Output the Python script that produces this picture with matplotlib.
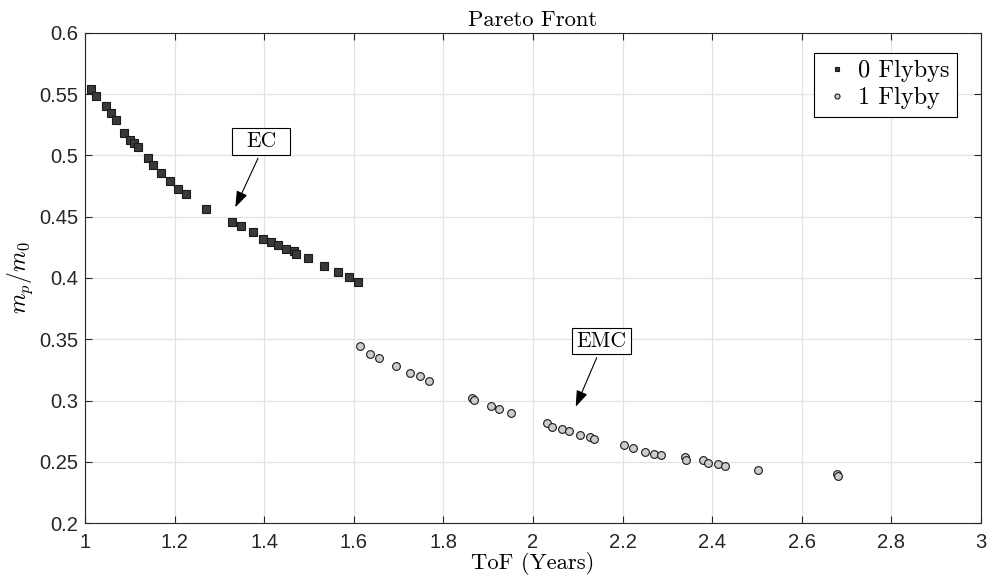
import matplotlib
matplotlib.use("Agg")
import matplotlib.pyplot as plt
from matplotlib.patches import Rectangle

plt.rcParams['mathtext.fontset'] = 'cm'

tof_0 = [1.0127, 1.0238, 1.0462, 1.0587, 1.0699, 1.0871, 1.1004, 1.1101, 1.1176, 1.1400,
         1.1525, 1.1704, 1.1905, 1.2083, 1.2254, 1.2694, 1.3288, 1.3489, 1.3750, 1.3980,
         1.4152, 1.4315, 1.4494, 1.4672, 1.4717, 1.4985, 1.5328, 1.5641, 1.5886, 1.6100]
mr_0 = [0.5540, 0.5485, 0.5400, 0.5344, 0.5290, 0.5180, 0.5126, 0.5104, 0.5069, 0.4980,
        0.4920, 0.4860, 0.4789, 0.4724, 0.4683, 0.4566, 0.4455, 0.4427, 0.4376, 0.4321,
        0.4294, 0.4269, 0.4237, 0.4218, 0.4199, 0.4166, 0.4098, 0.4049, 0.4010, 0.3967]

tof_1 = [1.6145, 1.6355, 1.6563, 1.6949, 1.7262, 1.7478, 1.7672, 1.8632, 1.8690, 1.9063,
         1.9234, 1.9502, 2.0313, 2.0417, 2.0640, 2.0797, 2.1056, 2.1266, 2.1369, 2.2031,
         2.2239, 2.2493, 2.2694, 2.2850, 2.3400, 2.3415, 2.3801, 2.3906, 2.4129, 2.4292,
         2.5022, 2.6779, 2.6808]
mr_1 = [0.3447, 0.3380, 0.3344, 0.3282, 0.3227, 0.3197, 0.3159, 0.3018, 0.3007, 0.2955,
        0.2931, 0.2896, 0.2816, 0.2787, 0.2765, 0.2754, 0.2718, 0.2700, 0.2686, 0.2640,
        0.2612, 0.2580, 0.2567, 0.2556, 0.2542, 0.2518, 0.2516, 0.2492, 0.2484, 0.2467,
        0.2435, 0.2402, 0.2386]

x_ticks = [1, 1.2, 1.4, 1.6, 1.8, 2, 2.2, 2.4, 2.6, 2.8, 3]
x_labels = ['1', '1.2', '1.4', '1.6', '1.8', '2', '2.2', '2.4', '2.6', '2.8', '3']
y_ticks = [0.2, 0.25, 0.3, 0.35, 0.4, 0.45, 0.5, 0.55, 0.6]
y_labels = ['0.2', '0.25', '0.3', '0.35', '0.4', '0.45', '0.5', '0.55', '0.6']

# annotation labels: (text, box left, box right, box bottom, box top, arrow start, arrow tip)
notes = [
    ('EC', 1.3275, 1.4583, 0.5004, 0.5224, (1.3862, 0.4977), (1.3355, 0.4577)),
    ('EMC', 2.0877, 2.2181, 0.3377, 0.3594, (2.1421, 0.3349), (2.0953, 0.2949)),
]

serif = ['cmr10', 'DejaVu Serif']
sans = ['Liberation Sans', 'DejaVu Sans']

fig = plt.figure(figsize=(9.88, 5.88), dpi=100)
ax = fig.add_axes([0.086, 0.1105, 0.907, 0.8335])

ax.plot(tof_0, mr_0, linestyle='none', marker='s', markersize=5.3,
        markerfacecolor='#3a3a3a', markeredgecolor='#1a1a1a', markeredgewidth=0.8,
        label='0 Flybys', zorder=3)
ax.plot(tof_1, mr_1, linestyle='none', marker='o', markersize=5.6,
        markerfacecolor='#cccccc', markeredgecolor='#1a1a1a', markeredgewidth=0.8,
        label='1 Flyby', zorder=3)

ax.set_xlim(1, 3)
ax.set_ylim(0.2, 0.6)
ax.set_xticks(x_ticks)
ax.set_xticklabels(x_labels, family=sans, fontsize=14.5)
ax.set_yticks(y_ticks)
ax.set_yticklabels(y_labels, family=sans, fontsize=14.5)
ax.tick_params(direction='in', top=True, right=True, length=5, width=0.8, colors='#262626')
ax.tick_params(axis='x', pad=7)
ax.tick_params(axis='y', pad=5)
ax.grid(True, color='#e3e3e3', linewidth=0.9)
ax.set_axisbelow(True)
for s in ax.spines.values():
    s.set_color('#262626')
    s.set_linewidth(0.8)

ax.set_title('Pareto Front', family=serif, fontsize=16.3, pad=5)
ax.set_xlabel('ToF (Years)', family=serif, fontsize=16.3, labelpad=0)
ax.set_ylabel(r'$m_p/m_0$', fontsize=17, labelpad=3)

for txt, x0, x1, y0, y1, start, tip in notes:
    ax.add_patch(Rectangle((x0, y0), x1 - x0, y1 - y0, facecolor='white',
                           edgecolor='black', linewidth=0.8, zorder=4))
    ax.text((x0 + x1) / 2, (y0 + y1) / 2, txt, family=serif, fontsize=15.5,
            ha='center', va='center', zorder=5)
    ax.annotate('', xy=tip, xytext=start,
                arrowprops=dict(arrowstyle='-|>,head_length=0.7,head_width=0.25',
                                color='black', lw=0.8, shrinkA=0, shrinkB=0,
                                mutation_scale=14), zorder=5)

leg = ax.legend(loc='upper right', bbox_to_anchor=(0.973, 0.959), borderaxespad=0,
                prop={'family': serif, 'size': 17.5}, fancybox=False,
                edgecolor='black', framealpha=1, handletextpad=0.2,
                handlelength=1.3, markerscale=0.65, borderpad=0.3, labelspacing=0.2)
leg.get_frame().set_linewidth(0.8)

fig.savefig('out.png', dpi=100)
